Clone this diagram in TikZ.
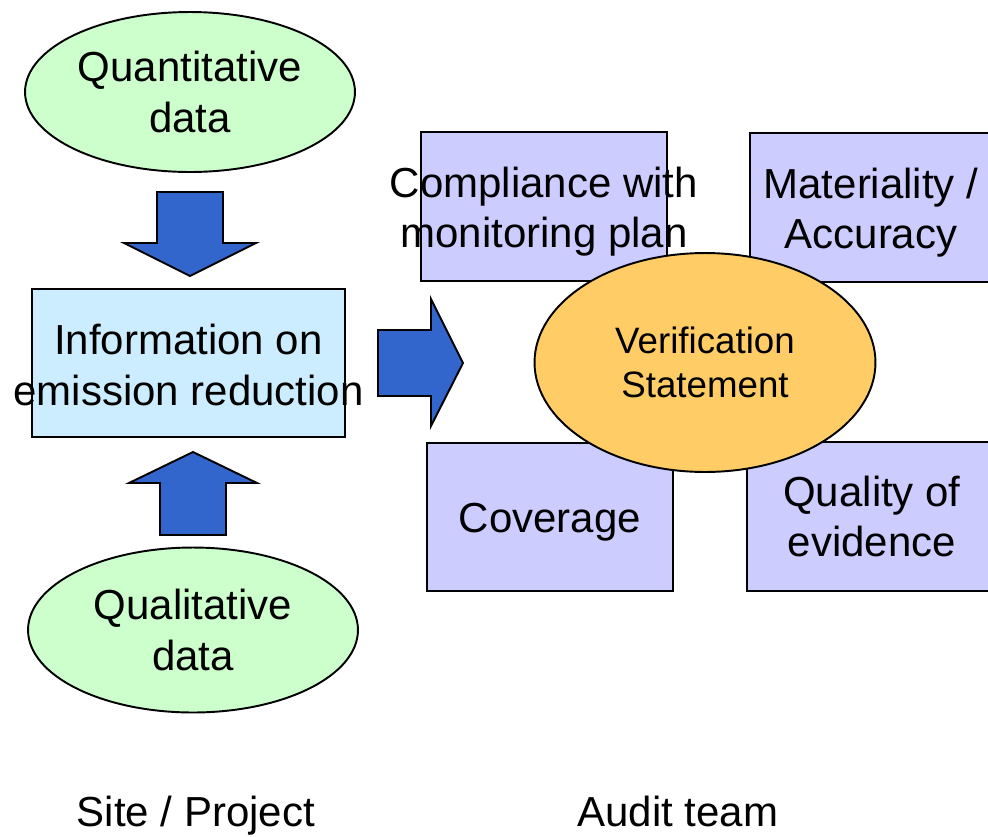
\documentclass[tikz,border=0pt]{standalone}
\usepackage{fontspec}
\setmainfont{Liberation Sans}
\usepackage{tikz}
\usetikzlibrary{shapes.geometric}
\definecolor{datagreen}{HTML}{CCFFCC}
\definecolor{infoblue}{HTML}{CCECFF}
\definecolor{auditbox}{HTML}{CCCCFF}
\definecolor{stmtorange}{HTML}{FFCC66}
\definecolor{arrowblue}{HTML}{3366CC}
\newcommand{\bigtext}{\fontsize{23.9pt}{28.7pt}\selectfont}
\newcommand{\stmttext}{\fontsize{20.9pt}{25pt}\selectfont}
\tikzset{
  datanode/.style={ellipse,draw,line width=1.1pt,fill=datagreen,inner sep=0pt,
    minimum width=6.6cm,align=center,font=\bigtext},
  infobox/.style={rectangle,draw,line width=1.1pt,fill=infoblue,inner sep=0pt},
  auditrect/.style={rectangle,draw,line width=1.1pt,fill=auditbox,inner sep=0pt},
  boxlabel/.style={inner sep=0pt,align=center,font=\bigtext},
  blockarrow/.style={draw,line width=1.1pt,fill=arrowblue,line join=miter},
}

\begin{document}
\begin{tikzpicture}[x=0.02cm,y=-0.02cm]
\useasboundingbox (0,0) rectangle (988,836);

% site side
\node[datanode,minimum height=3.2cm] (quant) at (190,92) {Quantitative\\data};
\node[datanode,minimum height=3.3cm] (qual) at (193,630) {Qualitative\\data};

\node[infobox,minimum width=6.26cm,minimum height=2.96cm] (info) at (188.5,363) {};
\node[boxlabel,yshift=-0.04cm] (infotext) at (info) {Information on\\emission reduction};

\draw[blockarrow,shift={(190,192)}]
  (-33,0) -- (33,0) -- (33,51) -- (66,51) -- (0,84) -- (-66,51) -- (-33,51) -- cycle;
\draw[blockarrow,shift={(193,452)}]
  (0,0) -- (64,31) -- (33,31) -- (33,83) -- (-33,83) -- (-33,31) -- (-64,31) -- cycle;
\draw[blockarrow,shift={(378,363)}]
  (0,-33) -- (53,-33) -- (53,-64) -- (85,0) -- (53,63) -- (53,33) -- (0,33) -- cycle;

% audit side
\node[auditrect,minimum width=4.92cm,minimum height=2.98cm] (compl) at (544,206.5) {};
\node[auditrect,minimum width=4.84cm,minimum height=2.98cm] (mater) at (871,207.5) {};
\node[auditrect,minimum width=4.92cm,minimum height=2.96cm] (cover) at (550,517) {};
\node[auditrect,minimum width=5.0cm,minimum height=2.98cm] (quali) at (872,516.5) {};
\node[boxlabel,yshift=-0.1cm] (compltext) at (compl) {Compliance with\\monitoring plan};
\node[boxlabel,yshift=-0.1cm] (matertext) at (mater) {Materiality /\\Accuracy};
\node[boxlabel,yshift=-0.1cm] (covertext) at (cover) {Coverage};
\node[boxlabel] (qualitext) at (quali) {Quality of\\evidence};

\node[ellipse,draw,line width=1.1pt,fill=stmtorange,inner sep=0pt,
  minimum width=6.82cm,minimum height=4.38cm,align=center,font=\stmttext]
  (stmt) at (705,362.5) {Verification\\Statement};

\node[font=\bigtext,anchor=base,inner sep=0pt] (site) at (196,826) {Site / Project};
\node[font=\bigtext,anchor=base,inner sep=0pt] (audit) at (678,826) {Audit team};
\end{tikzpicture}
\end{document}
